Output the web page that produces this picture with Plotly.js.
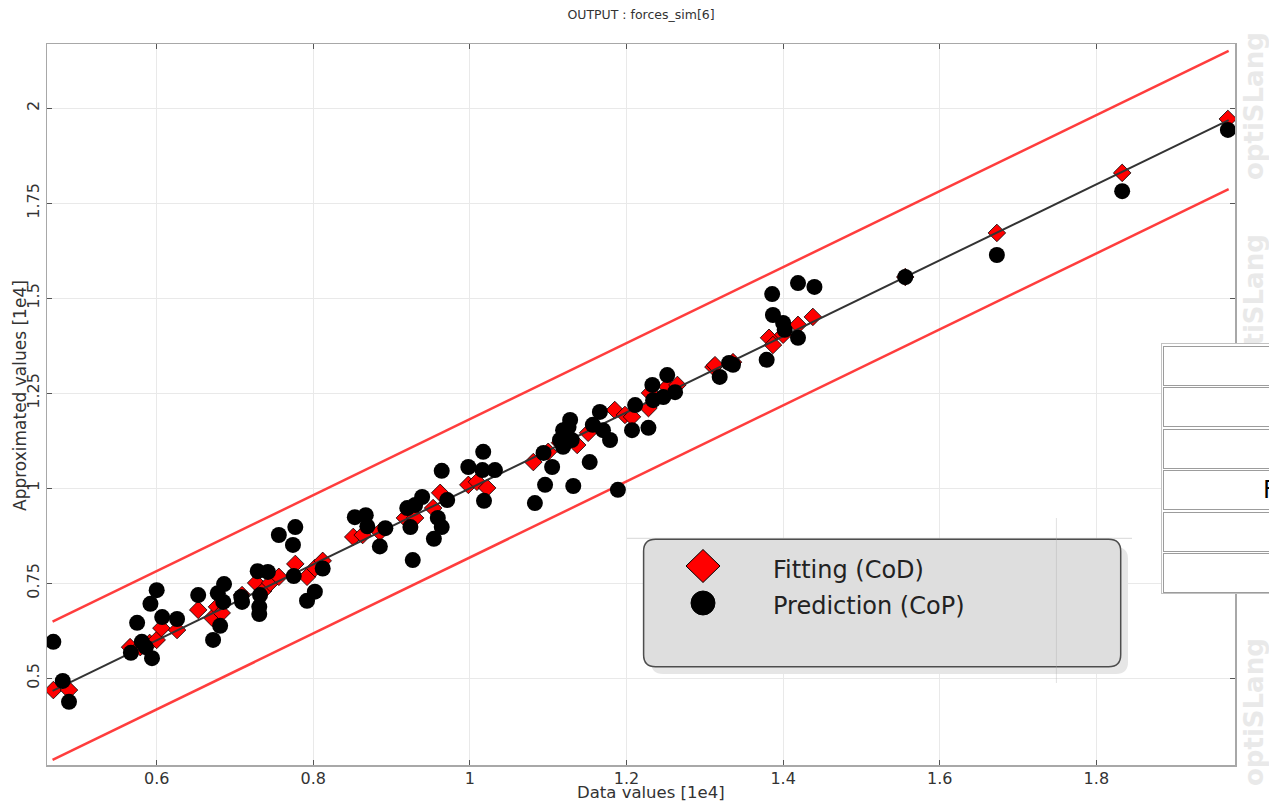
<!DOCTYPE html>
<html><head><meta charset="utf-8">
<script src="https://cdn.plot.ly/plotly-3.0.1.min.js"></script>
<style>html,body{margin:0;padding:0;background:#fff;overflow:hidden;} #chart{width:1269px;height:804px;}</style>
</head><body><div id="chart"></div>
<script>
// ---- data ----
const fitX = [0.468,0.488,0.566,0.579,0.591,0.600,0.606,0.626,0.653,0.671,0.677,0.683,0.709,0.727,0.736,0.745,0.756,0.777,0.792,0.802,0.812,0.851,0.863,0.885,0.917,0.930,0.953,0.962,0.998,1.009,1.022,1.081,1.100,1.115,1.128,1.137,1.151,1.185,1.198,1.207,1.228,1.230,1.252,1.265,1.311,1.313,1.336,1.382,1.387,1.400,1.419,1.438,1.556,1.673,1.833,1.968];
const fitY = [0.469,0.469,0.582,0.582,0.593,0.601,0.632,0.627,0.680,0.659,0.688,0.672,0.719,0.751,0.730,0.751,0.767,0.801,0.767,0.790,0.809,0.872,0.877,0.885,0.922,0.922,0.948,0.988,1.009,1.017,1.001,1.069,1.096,1.120,1.127,1.114,1.146,1.206,1.193,1.188,1.211,1.251,1.267,1.272,1.319,1.324,1.332,1.396,1.377,1.404,1.430,1.451,1.556,1.672,1.830,1.972];
const predX = [0.468,0.480,0.488,0.575,0.600,0.592,0.607,0.626,0.567,0.581,0.586,0.594,0.653,0.678,0.686,0.685,0.681,0.672,0.709,0.708,0.729,0.742,0.732,0.731,0.731,0.775,0.792,0.802,0.812,0.774,0.756,0.777,0.853,0.867,0.869,0.892,0.885,0.927,0.954,0.964,0.959,0.971,0.939,0.930,0.920,0.924,0.964,0.998,1.017,1.016,1.032,1.018,1.083,1.096,1.132,1.094,1.105,1.119,1.126,1.130,1.115,1.153,1.189,1.207,1.228,1.166,1.157,1.179,1.170,1.128,1.119,1.211,1.233,1.252,1.247,1.262,1.234,1.319,1.331,1.336,1.379,1.419,1.419,1.440,1.386,1.387,1.400,1.402,1.556,1.673,1.833,1.968];
const predY = [0.596,0.493,0.438,0.646,0.732,0.696,0.661,0.656,0.567,0.596,0.582,0.553,0.719,0.724,0.748,0.701,0.638,0.601,0.701,0.714,0.782,0.780,0.719,0.688,0.669,0.769,0.704,0.728,0.789,0.851,0.877,0.898,0.924,0.929,0.900,0.895,0.847,0.811,0.867,0.898,0.922,0.969,0.977,0.956,0.948,0.898,1.046,1.056,1.096,1.048,1.048,0.967,0.961,1.009,1.006,1.093,1.056,1.109,1.161,1.127,1.127,1.069,0.996,1.153,1.159,1.201,1.167,1.127,1.153,1.180,1.153,1.219,1.272,1.298,1.240,1.253,1.232,1.293,1.330,1.325,1.338,1.396,1.540,1.530,1.511,1.456,1.435,1.417,1.556,1.614,1.782,1.943];
const diagX  = [0.467, 1.969];
const diagY  = [0.467, 1.969];
const upperY = [0.649, 2.151];
const lowerY = [0.285, 1.787];
const xTickVals = [0.6, 0.8, 1, 1.2, 1.4, 1.6, 1.8];
const xTickText = ['0.6', '0.8', '1', '1.2', '1.4', '1.6', '1.8'];
const yTickVals = [0.5, 0.75, 1, 1.25, 1.5, 1.75, 2];
const yTickText = ['0.5', '0.75', '1', '1.25', '1.5', '1.75', '2'];
const chartTitle = 'OUTPUT : forces_sim[6]';
const xTitle = 'Data values [1e4]';
const yTitle = 'Approximated values [1e4]';
const legendLabels = ['Fitting (CoD)', 'Prediction (CoP)'];
const watermarkText = 'optiSLang';
const tableCellText = 'F';

// ---- layout geometry (pixels of the 1269x804 page) ----
const W = 1269, H = 804, L = 47, R = 1235, T = 44, B = 765;
const px = v => (v - L) / (R - L);
const py = v => (B - v) / (B - T);
const P = (x, y) => px(x).toFixed(5) + ',' + py(y).toFixed(5);
function roundRect(x0, y0, x1, y1, r) {
  return 'M' + P(x0 + r, y0) + ' L' + P(x1 - r, y0) + ' Q' + P(x1, y0) + ' ' + P(x1, y0 + r) +
    ' L' + P(x1, y1 - r) + ' Q' + P(x1, y1) + ' ' + P(x1 - r, y1) +
    ' L' + P(x0 + r, y1) + ' Q' + P(x0, y1) + ' ' + P(x0, y1 - r) +
    ' L' + P(x0, y0 + r) + ' Q' + P(x0, y0) + ' ' + P(x0 + r, y0) + ' Z';
}
const FONT = 'DejaVu Sans, Verdana, sans-serif';

const traces = [
  { type: 'scatter', mode: 'markers', x: fitX, y: fitY, name: legendLabels[0],
    marker: { symbol: 'diamond', size: 13.5, color: '#ff0000', line: { color: '#000', width: 0.8 } } },
  { type: 'scatter', mode: 'lines', x: diagX, y: diagY, line: { color: '#333', width: 2 } },
  { type: 'scatter', mode: 'lines', x: diagX, y: upperY, line: { color: 'rgba(255,45,45,0.92)', width: 2.5 } },
  { type: 'scatter', mode: 'lines', x: diagX, y: lowerY, line: { color: 'rgba(255,45,45,0.92)', width: 2.5 } },
  { type: 'scatter', mode: 'markers', x: predX, y: predY, name: legendLabels[1],
    marker: { symbol: 'circle', size: 16, color: '#000', line: { width: 0 } } }
];

const shapes = [
  // white patch hiding the grid behind the legend area
  { type: 'rect', xref: 'paper', yref: 'paper', layer: 'between', x0: px(627), x1: px(1132), y0: py(683), y1: py(518),
    fillcolor: '#fff', line: { width: 0 } },
  { type: 'line', xref: 'paper', yref: 'paper', x0: px(627), x1: px(1132), y0: py(538.3), y1: py(538.3),
    line: { color: '#d8d8d8', width: 1 } },
  // legend shadow + box
  { type: 'path', xref: 'paper', yref: 'paper', path: roundRect(651, 547, 1128, 674, 12), fillcolor: '#e6e6e6', line: { width: 0 } },
  { type: 'path', xref: 'paper', yref: 'paper', path: roundRect(643.6, 539.3, 1120.7, 666.7, 12), fillcolor: '#dedede', line: { color: '#4d4d4d', width: 1.5 } },
  { type: 'line', xref: 'paper', yref: 'paper', x0: px(1056.4), x1: px(1056.4), y0: py(683), y1: py(518),
    line: { color: 'rgba(170,170,170,0.35)', width: 1 } },
  // legend symbols
  { type: 'path', xref: 'paper', yref: 'paper', path: 'M' + P(686, 566) + ' L' + P(703, 549.5) + ' L' + P(720, 566) + ' L' + P(703, 582.5) + ' Z',
    fillcolor: '#ff0000', line: { color: '#000', width: 1 } },
  { type: 'circle', xref: 'paper', yref: 'paper', x0: px(691), x1: px(715), y0: py(615), y1: py(591),
    fillcolor: '#000', line: { color: '#000', width: 1 } }
];

const annotations = [];
// axis titles
annotations.push({ xref: 'paper', yref: 'paper', x: px(651), y: py(792.5), xanchor: 'center', yanchor: 'middle', showarrow: false,
  text: xTitle, font: { family: FONT, size: 16.5, color: '#333' }, borderpad: 0 });
annotations.push({ xref: 'paper', yref: 'paper', x: px(20), y: py(396), xanchor: 'center', yanchor: 'middle', showarrow: false,
  text: yTitle, textangle: -90, font: { family: FONT, size: 17, color: '#333' }, borderpad: 0 });
[106, 308, 510, 712].forEach(c => annotations.push({
  xref: 'paper', yref: 'paper', x: px(1254), y: py(c), xanchor: 'center', yanchor: 'middle', showarrow: false,
  text: watermarkText, textangle: -90, font: { family: FONT, size: 26, weight: 700, color: '#e9e9e9' }
}));
annotations.push({ xref: 'paper', yref: 'paper', x: px(770.5), y: py(570), xanchor: 'left', yanchor: 'middle', showarrow: false,
  text: legendLabels[0], font: { family: FONT, size: 24, color: '#222' } });
annotations.push({ xref: 'paper', yref: 'paper', x: px(770.5), y: py(606), xanchor: 'left', yanchor: 'middle', showarrow: false,
  text: legendLabels[1], font: { family: FONT, size: 24, color: '#222' } });
// side table (cut off by the window edge)
annotations.push({ xref: 'paper', yref: 'paper', x: px(1160.5), y: py(343.3), xanchor: 'left', yanchor: 'top', showarrow: false,
  text: ' ', width: 130, height: 249, bgcolor: '#fff', bordercolor: '#c2c2c2', borderwidth: 1, borderpad: 0 });
[346, 387.3, 429, 470, 511.7, 552.7].forEach(t => annotations.push({
  xref: 'paper', yref: 'paper', x: px(1162.5), y: py(t), xanchor: 'left', yanchor: 'top', showarrow: false,
  text: ' ', width: 130, height: 37.5, bgcolor: '#fff', bordercolor: '#9c9c9c', borderwidth: 1, borderpad: 0 }));
annotations.push({ xref: 'paper', yref: 'paper', x: px(1262), y: py(490), xanchor: 'left', yanchor: 'middle', showarrow: false,
  text: tableCellText, font: { family: FONT, size: 24, color: '#000' }, borderpad: 0 });

const axisCommon = {
  ticks: 'inside', ticklen: 5, tickwidth: 1, tickcolor: '#555',
  showline: true, linecolor: '#a8a8a8', linewidth: 1.5, mirror: 'ticks',
  showgrid: true, gridcolor: '#e9e9e9', gridwidth: 1, zeroline: false,
  tickmode: 'array', tickfont: { family: FONT, size: 16, color: '#333' }, automargin: false
};

const layout = {
  width: W, height: H,
  margin: { l: L, r: W - R, t: T, b: H - B, pad: 0 },
  paper_bgcolor: '#fff', plot_bgcolor: '#fff',
  showlegend: false,
  title: { text: chartTitle, font: { family: FONT, size: 12.5, color: '#333' }, x: 0.5, xref: 'paper', xanchor: 'center',
    y: 1 - 15 / H, yref: 'container', yanchor: 'middle' },
  xaxis: Object.assign({}, axisCommon, { range: [0.4599, 1.9771], tickvals: xTickVals, ticktext: xTickText, ticklabelstandoff: -2 }),
  yaxis: Object.assign({}, axisCommon, { range: [0.2718, 2.1692], tickvals: yTickVals, ticktext: yTickText, tickangle: -90 }),
  shapes: shapes,
  annotations: annotations
};

Plotly.newPlot('chart', traces, layout, { displayModeBar: false, staticPlot: true });
</script>
</body></html>
